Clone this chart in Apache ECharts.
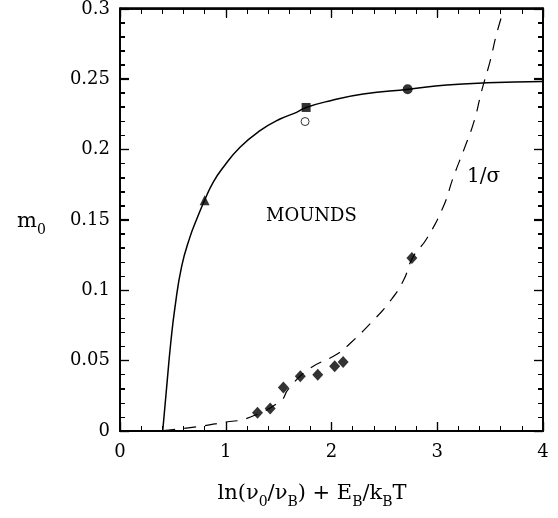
<!DOCTYPE html>
<html lang="en">
<head>
    <meta charset="UTF-8">
    <title>m0 vs ln(v0/vB) + EB/kBT</title>
    <script src="https://cdnjs.cloudflare.com/ajax/libs/echarts/6.0.0/echarts.min.js"></script>
    <style>
        html, body { margin: 0; padding: 0; background: #fff; }
    </style>
</head>
<body>
<div id="chart" style="width: 558px; height: 518px;"></div>

<script>
    // solid boundary curve
    var solidX = [0.404, 0.441, 0.479, 0.52, 0.583, 0.662, 0.725, 0.80, 0.882, 0.977, 1.135, 1.324, 1.513, 1.67, 1.76, 1.99, 2.30, 2.73, 3.09, 3.47, 4.0];
    var solidY = [0, 0.031, 0.062, 0.088, 0.117, 0.138, 0.1505, 0.164, 0.177, 0.1875, 0.2017, 0.2135, 0.2218, 0.2265, 0.230, 0.2348, 0.2395, 0.243, 0.246, 0.2475, 0.2484];

    // dashed 1/sigma curve
    var dashX = [0.41, 0.725, 1.0, 1.20, 1.52, 1.59, 1.78, 2.05, 2.175, 2.39, 2.56, 2.68, 2.77, 2.90, 3.06, 3.15, 3.26, 3.35, 3.42, 3.50, 3.56, 3.63];
    var dashY = [0.0002, 0.003, 0.0064, 0.009, 0.0215, 0.0296, 0.0437, 0.0546, 0.0622, 0.0782, 0.0929, 0.107, 0.1236, 0.1367, 0.160, 0.180, 0.2016, 0.2206, 0.2418, 0.263, 0.282, 0.30];

    // measured points
    var diamondX = [1.30, 1.42, 1.545, 1.705, 1.87, 2.03, 2.11, 2.76];
    var diamondY = [0.013, 0.016, 0.031, 0.039, 0.040, 0.046, 0.049, 0.123];
    var triangleX = [0.80], triangleY = [0.164];
    var squareX = [1.76], squareY = [0.230];
    var dotX = [2.72], dotY = [0.243];
    var openX = [1.75], openY = [0.220];

    var xTicks = [0, 1, 2, 3, 4];
    var yTicks = [0, 0.05, 0.1, 0.15, 0.2, 0.25, 0.3];

    function pairs(xs, ys) {
        return xs.map(function (x, i) { return [x, ys[i]]; });
    }

    var font = 'DejaVu Serif';
    var black = '#000';

    var chart = echarts.init(document.getElementById('chart'));

    function axis(extra, isX) {
        var t = isX ? xTicks : yTicks;
        return Object.assign({
            type: 'value', min: t[0], max: t[t.length - 1], interval: isX ? 1 : 0.05,
            axisLine: {show: true, onZero: false, lineStyle: {color: black, width: 1.5}},
            axisTick: {show: true, inside: true, length: 9, lineStyle: {color: black, width: 1.2}},
            minorTick: {show: true, splitNumber: 5, length: 5, lineStyle: {color: black, width: 1}},
            splitLine: {show: false}
        }, extra);
    }

    var rich = {
        a: {fontFamily: font, fontSize: 21, color: black},
        s: {fontFamily: font, fontSize: 14, color: black, padding: [16, 0, 0, 0]}
    };

    var box = {left: 120, right: 15, top: 8, bottom: 87};
    var noLabel = {axisLabel: {show: false}};

    var option = {
        animation: false,
        grid: [
            Object.assign({show: true, borderColor: black, borderWidth: 1.5, backgroundColor: 'transparent'}, box),
            // second grid on the same box, only for the tick marks
            Object.assign({}, box)
        ],
        xAxis: [
            axis({position: 'bottom', axisLabel: {color: black, fontFamily: font, fontSize: 18, margin: 12}}, true),
            axis(Object.assign({position: 'top'}, noLabel), true),
            axis(Object.assign({gridIndex: 1, position: 'bottom'}, noLabel), true),
            axis(Object.assign({gridIndex: 1, position: 'top'}, noLabel), true)
        ],
        yAxis: [
            axis({position: 'left', axisLabel: {color: black, fontFamily: font, fontSize: 18, margin: 10}}, false),
            axis(Object.assign({position: 'right'}, noLabel), false),
            axis(Object.assign({gridIndex: 1, position: 'left'}, noLabel), false),
            axis(Object.assign({gridIndex: 1, position: 'right'}, noLabel), false)
        ],
        graphic: [
            {type: 'text', x: 312, y: 494,
                style: {text: '{a|ln(ν}{s|0}{a|/ν}{s|B}{a|) + E}{s|B}{a|/k}{s|B}{a|T}', rich: rich,
                    align: 'center', verticalAlign: 'middle'}},
            {type: 'text', x: 17, y: 222,
                style: {text: '{a|m}{s|0}', rich: rich, align: 'left', verticalAlign: 'middle'}},
            {type: 'text', left: 266, top: 207,
                style: {text: 'MOUNDS', font: '18px "DejaVu Serif"', fill: black}},
            {type: 'text', left: 467, top: 167,
                style: {text: '1/σ', font: '20px "DejaVu Serif"', fill: black}}
        ],
        series: [
            {
                type: 'line', smooth: 0.5, showSymbol: false, silent: true,
                data: pairs(solidX, solidY),
                lineStyle: {color: black, width: 1.5}
            },
            {
                type: 'line', smooth: 0.5, showSymbol: false, silent: true,
                data: pairs(dashX, dashY),
                lineStyle: {color: black, width: 1.2, type: [12, 9]}
            },
            {
                type: 'scatter', symbol: 'diamond', symbolSize: [11, 12],
                data: pairs(diamondX, diamondY), itemStyle: {color: black}
            },
            {
                type: 'scatter', symbol: 'triangle', symbolSize: 10,
                data: pairs(triangleX, triangleY), itemStyle: {color: black}
            },
            {
                type: 'scatter', symbol: 'rect', symbolSize: 9,
                data: pairs(squareX, squareY), itemStyle: {color: black}
            },
            {
                type: 'scatter', symbol: 'circle', symbolSize: 10,
                data: pairs(dotX, dotY), itemStyle: {color: black}
            },
            {
                type: 'scatter', symbol: 'circle', symbolSize: 8,
                data: pairs(openX, openY),
                itemStyle: {color: '#fff', borderColor: black, borderWidth: 1}
            },
            {type: 'line', xAxisIndex: 2, yAxisIndex: 2, data: [], showSymbol: false}
        ]
    };

    chart.setOption(option);
</script>
</body>
</html>
